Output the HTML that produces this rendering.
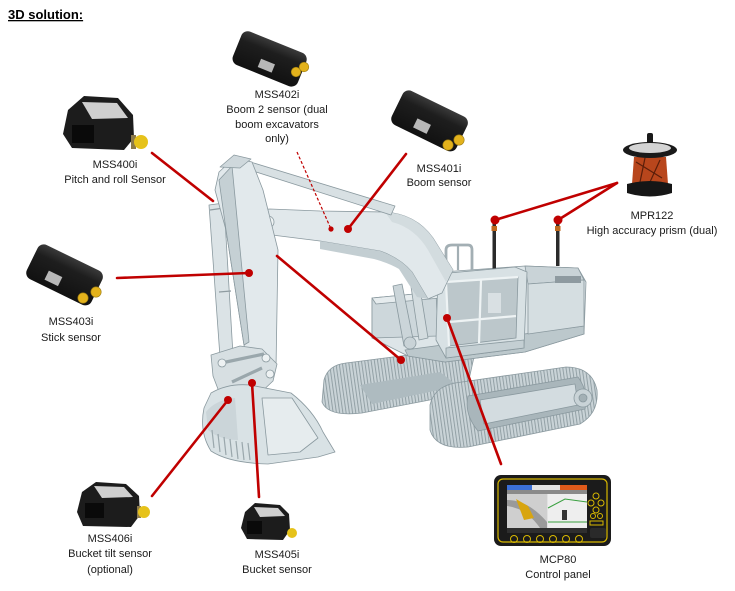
<!DOCTYPE html>
<html><head><meta charset="utf-8"><style>
html,body{margin:0;padding:0;background:#fff;}
svg{display:block;}
text{font-family:"Liberation Sans",sans-serif;font-size:11px;fill:#1a1a1a;}
</style></head><body>
<svg width="735" height="591" viewBox="0 0 735 591" xmlns="http://www.w3.org/2000/svg">
<defs>
<pattern id="tread" width="3.2" height="10" patternUnits="userSpaceOnUse" patternTransform="rotate(-8)">
<rect width="3.2" height="10" fill="#c9d3d7"/><line x1="0.5" y1="0" x2="0.5" y2="10" stroke="#92a0a5" stroke-width="1"/></pattern>
<linearGradient id="box" x1="0" y1="0" x2="0" y2="1">
<stop offset="0" stop-color="#3a3a3a"/><stop offset="0.3" stop-color="#1e1e1e"/><stop offset="1" stop-color="#111"/></linearGradient>
</defs>
<rect width="735" height="591" fill="#fff"/>
<text x="8" y="19" style="font-size:13px;font-weight:bold;text-decoration:underline;fill:#000">3D solution:</text>

<!-- ===== Excavator ===== -->
<g stroke="#8a999f" stroke-width="0.8" stroke-linejoin="round">
<!-- rear track -->
<path d="M324,380 Q328,365 346,363 L440,351 L474,357 L466,393 L362,413 Q328,417 322,402 Z" fill="url(#tread)"/>
<path d="M360,385 L440,372 L458,386 L372,404 Z" fill="#aebbc0" stroke="none"/>
<!-- upper body -->
<path d="M372,300 L440,294 L442,272 L525,266 L578,268 L586,282 L584,334 L525,352 L445,362 L408,356 L372,338 Z" fill="#dde5e8"/>
<path d="M372,298 L436,292 L438,336 L372,338 Z" fill="#cdd7db"/>
<path d="M372,298 L436,292 L440,298 L376,304 Z" fill="#e6ecee"/>
<path d="M405,350 L584,326 L584,334 L525,352 L445,362 L408,356 Z" fill="#bcc8cc"/>
<path d="M525,266 L578,268 L584,280 L528,284 Z" fill="#c9d3d7"/>
<path d="M528,284 L584,280 L584,326 L528,334 Z" fill="#d5dee1"/>
<rect x="555" y="276" width="26" height="7" fill="#8e9aa0" stroke="none"/>
<!-- handrails -->
<path d="M446,270 L446,250 Q446,245 452,245 L468,245 Q472,245 472,250 L472,270" fill="none" stroke="#a3afb4" stroke-width="2.8"/>
<path d="M458,246 L458,270" fill="none" stroke="#a3afb4" stroke-width="2.2"/>
<!-- antennas -->
<rect x="492.5" y="222" width="3.5" height="48" fill="#2b2b2b" stroke="none"/>
<rect x="491.5" y="226" width="5.5" height="5" fill="#c0691f" stroke="none"/>
<rect x="556" y="222" width="3.5" height="44" fill="#2b2b2b" stroke="none"/>
<rect x="555" y="226" width="5.5" height="5" fill="#c0691f" stroke="none"/>
<!-- cab -->
<path d="M438,274 L515,267 L527,272 L524,348 L446,358 L436,340 Z" fill="#d8e1e4"/>
<path d="M446,282 L518,277 L516,338 L449,346 Z" fill="#bcc7cb"/>
<path d="M446,282 L518,277 M481,280 L479,343 M449,322 L516,316 M446,282 L449,346" fill="none" stroke="#eef3f4" stroke-width="2.2"/>
<rect x="488" y="293" width="13" height="20" fill="#d9e0e3" stroke="none"/>
<path d="M446,348 L524,340 L524,348 L446,358 Z" fill="#c4cfd3"/>
<!-- front track -->
<path d="M430,405 Q434,387 455,383 L566,367 Q592,367 597,390 Q599,413 580,424 L468,447 Q436,450 430,430 Z" fill="url(#tread)"/>
<path d="M468,396 L578,377 Q589,392 585,409 L478,431 Q464,414 468,396 Z" fill="#a9b6bb"/>
<path d="M480,400 L575,384 L578,405 L484,424 Z" fill="#d3dce0"/>
<circle cx="583" cy="398" r="9" fill="#c9d3d7"/>
<circle cx="583" cy="398" r="4" fill="#a3b0b5"/>
<!-- boom cylinders -->
<path d="M404,240 L412,238 L428,338 L419,340 Z" fill="#d3dcdf"/>
<path d="M393,286 L402,284 L414,344 L404,346 Z" fill="#cbd5d9"/>
<circle cx="410" cy="343" r="6" fill="#c9d3d7"/>
<!-- boom -->
<path d="M262,216 Q262,209 270,209 L320,211 L385,212 Q416,214 433,238 L453,270 L442,293 L428,299 L412,272 Q400,258 380,251 L320,241 L272,235 Q260,230 262,216 Z" fill="#e1e8eb"/>
<path d="M320,241 L380,251 Q400,258 412,272 L428,299 L417,297 L399,269 Q389,263 374,259 L320,249 Z" fill="#c3ced2" stroke="none"/>
<path d="M385,212 Q416,214 433,238 L453,270 L446,282 L428,250 Q415,228 392,222 Z" fill="#d3dcdf" stroke="none"/>
<circle cx="268" cy="222" r="6" fill="#eef2f3"/>
<circle cx="268" cy="222" r="2.5" fill="#bcc7cb"/>
<!-- top cylinder -->
<path d="M228,163 L234,157 L395,206 L391,215 Z" fill="#d8e0e3"/>
<!-- stick-side cylinder -->
<path d="M209,205 L224,203 L233,355 L220,357 Z" fill="#dbe3e6"/>
<path d="M210,210 L224,208 M219,292 L231,291" fill="none" stroke="#8f9ca1" stroke-width="1.2"/>
<!-- stick -->
<path d="M215,190 L219,172 L234,158 L252,162 L263,190 L278,250 L276,368 L262,373 L250,373 L244,345 L226,230 Z" fill="#e2e9ec"/>
<path d="M219,180 L232,166 L249,342 L244,345 L226,230 Z" fill="#c5d0d4"/>
<path d="M220,167 L234,155 L251,159 L240,168 Z" fill="#cfd8dc"/>
<!-- linkage -->
<path d="M211,355 L240,346 L262,349 L277,364 L273,381 L256,397 L240,403 L221,397 L213,376 Z" fill="#d7dfe2"/>
<path d="M226,362 L264,354 M232,382 L262,368" fill="none" stroke="#9aa7ac" stroke-width="3.2"/>
<circle cx="222" cy="363" r="4" fill="#eef2f3"/>
<circle cx="266" cy="358" r="4" fill="#eef2f3"/>
<circle cx="270" cy="374" r="4" fill="#eef2f3"/>
<circle cx="244" cy="397" r="4" fill="#eef2f3"/>
<!-- bucket -->
<path d="M211,393 Q228,383 250,385 L291,393 Q313,410 323,432 L335,452 L318,457 L268,464 Q229,463 211,451 Q199,432 204,408 Z" fill="#d9e2e5"/>
<path d="M262,398 L292,398 L318,438 L300,452 L268,455 Z" fill="#e6ecee"/>
<path d="M206,412 Q215,400 235,398 L238,440 Q220,440 208,430 Z" fill="#cbd5d9" stroke="none"/>
<path d="M212,430 L214,448 M218,434 L220,452 M224,437 L226,455 M230,439 L232,457 M236,441 L238,459 M242,442 L244,460 M248,443 L250,460" fill="none" stroke="#9aa7ac" stroke-width="1.2"/>
</g>

<!-- ===== Red connectors ===== -->
<g stroke="#c00000" stroke-width="2.6" stroke-linecap="round" fill="none">
<line x1="152" y1="153" x2="213" y2="201"/>
<line x1="277" y1="256" x2="401" y2="360"/>
<line x1="406" y1="154" x2="348" y2="229"/>
<line x1="117" y1="278" x2="249" y2="273"/>
<line x1="447" y1="318" x2="501" y2="464"/>
<line x1="228" y1="400" x2="152" y2="496"/>
<line x1="252" y1="383" x2="259" y2="497"/>
<line x1="617" y1="183" x2="495" y2="220"/>
<line x1="617" y1="183" x2="558" y2="220"/>
</g>
<line x1="297" y1="152" x2="331" y2="229" stroke="#c00000" stroke-width="1.2" stroke-dasharray="3,2"/>
<g fill="#c00000">
<circle cx="331" cy="229" r="2.6"/>
<circle cx="348" cy="229" r="4"/>
<circle cx="249" cy="273" r="4"/>
<circle cx="401" cy="360" r="4"/>
<circle cx="447" cy="318" r="4"/>
<circle cx="228" cy="400" r="4"/>
<circle cx="252" cy="383" r="4"/>
<circle cx="495" cy="220" r="4.5"/>
<circle cx="558" cy="220" r="4.5"/>
</g>

<!-- ===== Box sensors ===== -->
<!-- MSS402i -->
<g transform="translate(270,58) rotate(22)">
<rect x="-35" y="-17" width="70" height="36" rx="7" fill="url(#box)"/>
<rect x="-8" y="4" width="15" height="9" fill="#b8b8b8"/>
</g>
<circle cx="296" cy="72" r="4.8" fill="#e3b21c" stroke="#9a7a10" stroke-width="0.6"/>
<circle cx="304" cy="67" r="4.8" fill="#e3b21c" stroke="#9a7a10" stroke-width="0.6"/>
<!-- MSS401i -->
<g transform="translate(430,120) rotate(26)">
<rect x="-36" y="-18" width="72" height="38" rx="7" fill="url(#box)"/>
<rect x="-12" y="4" width="15" height="10" fill="#b8b8b8"/>
</g>
<circle cx="448" cy="145" r="5.2" fill="#e3b21c" stroke="#9a7a10" stroke-width="0.6"/>
<circle cx="459" cy="140" r="5.2" fill="#e3b21c" stroke="#9a7a10" stroke-width="0.6"/>
<!-- MSS403i -->
<g transform="translate(65,274) rotate(26)">
<rect x="-36" y="-18" width="72" height="38" rx="7" fill="url(#box)"/>
<rect x="-16" y="4" width="15" height="10" fill="#b8b8b8"/>
</g>
<circle cx="83" cy="298" r="5.2" fill="#e3b21c" stroke="#9a7a10" stroke-width="0.6"/>
<circle cx="96" cy="292" r="5.2" fill="#e3b21c" stroke="#9a7a10" stroke-width="0.6"/>

<!-- ===== Pitch/roll style sensors ===== -->
<!-- MSS400i -->
<path d="M68,110 L84,96 L118,98 L133,115 L134,138 L124,150 L72,148 L63,134 Z" fill="#1c1c1c"/>
<path d="M82,102 L117,103 L128,118 L92,119 Z" fill="#cfcfcf"/>
<rect x="72" y="125" width="22" height="18" fill="#0a0a0a"/>
<rect x="131" y="135" width="5" height="14" fill="#8c7a4a"/>
<circle cx="141" cy="142" r="7" fill="#e6c21a"/>
<!-- MSS406i -->
<path d="M82,492 L96,482 L126,484 L139,496 L140,515 L131,527 L83,526 L77,512 Z" fill="#1c1c1c"/>
<path d="M94,486 L124,487 L133,497 L102,498 Z" fill="#cfcfcf"/>
<rect x="85" y="503" width="19" height="15" fill="#0a0a0a"/>
<rect x="137" y="506" width="4" height="12" fill="#8c7a4a"/>
<circle cx="144" cy="512" r="6" fill="#e6c21a"/>
<!-- MSS405i -->
<path d="M245,512 L255,503 L280,505 L289,514 L290,530 L283,540 L247,539 L241,528 Z" fill="#1c1c1c"/>
<path d="M254,507 L278,508 L285,516 L260,517 Z" fill="#cfcfcf"/>
<rect x="247" y="521" width="15" height="13" fill="#0a0a0a"/>
<circle cx="292" cy="533" r="5" fill="#e6c21a"/>

<!-- ===== Prism MPR122 ===== -->
<rect x="647" y="133" width="6" height="12" rx="2" fill="#1a1a1a"/>
<path d="M634,157 L666,157 L668,184 L632,184 Z" fill="#b8461c"/>
<path d="M636,162 L662,178 M645,158 L640,182 M660,160 L650,182" stroke="#5a1e0a" stroke-width="1.2"/>
<ellipse cx="650" cy="150" rx="27" ry="8" fill="#1a1a1a"/>
<ellipse cx="650" cy="148" rx="21" ry="5" fill="#d4d4d4"/>
<path d="M627,184 Q650,178 672,184 L672,193 Q650,200 627,193 Z" fill="#161616"/>

<!-- ===== Tablet MCP80 ===== -->
<rect x="494" y="475" width="117" height="71" rx="7" fill="#1b1b1b"/>
<rect x="498" y="479" width="109" height="63" rx="5" fill="none" stroke="#d8b800" stroke-width="1.2"/>
<rect x="507" y="485" width="80" height="48" fill="#e2e2e2"/>
<rect x="507" y="485" width="25" height="5" fill="#3b6fd6"/>
<rect x="560" y="485" width="27" height="5" fill="#e05a1a"/>
<rect x="507" y="490" width="80" height="4" fill="#8a8a8a"/>
<rect x="507" y="494" width="40" height="34" fill="#cfcfcf"/>
<path d="M507,500 Q528,500 547,522 L547,528 L540,528 Q526,508 507,506 Z" fill="#9a9a9a"/>
<path d="M516,499 L528,506 L534,518 L524,520 Z" fill="#d8a510"/>
<rect x="548" y="494" width="39" height="34" fill="#eeeeee"/>
<path d="M548,508 L565,499 L587,502" fill="none" stroke="#3aa040" stroke-width="1"/>
<path d="M548,522 L587,522" fill="none" stroke="#3aa040" stroke-width="1"/>
<rect x="562" y="510" width="5" height="10" fill="#333"/>
<rect x="507" y="528" width="80" height="5" fill="#2e2e2e"/>
<g fill="none" stroke="#d8b800" stroke-width="1">
<circle cx="514" cy="539" r="3.5"/><circle cx="527" cy="539" r="3.5"/><circle cx="540" cy="539" r="3.5"/>
<circle cx="553" cy="539" r="3.5"/><circle cx="566" cy="539" r="3.5"/><circle cx="579" cy="539" r="3.5"/>
<circle cx="596" cy="496" r="3"/><circle cx="591" cy="503" r="3"/><circle cx="601" cy="503" r="3"/>
<circle cx="596" cy="510" r="3"/><circle cx="593" cy="516" r="2.5"/><circle cx="600" cy="516" r="2.5"/>
<rect x="590" y="521" width="13" height="4"/>
</g>
<rect x="590" y="528" width="16" height="10" rx="2" fill="#2a2a2a"/>

<!-- ===== Labels ===== -->
<g text-anchor="middle">
<text x="277" y="98">MSS402i</text>
<text x="277" y="113">Boom 2 sensor (dual</text>
<text x="277" y="128">boom excavators</text>
<text x="277" y="142">only)</text>
<text x="115" y="168">MSS400i</text>
<text x="115" y="183">Pitch and roll Sensor</text>
<text x="439" y="172">MSS401i</text>
<text x="439" y="186">Boom sensor</text>
<text x="652" y="219">MPR122</text>
<text x="652" y="234">High accuracy prism (dual)</text>
<text x="71" y="325">MSS403i</text>
<text x="71" y="341">Stick sensor</text>
<text x="110" y="542">MSS406i</text>
<text x="110" y="557">Bucket tilt sensor</text>
<text x="110" y="573">(optional)</text>
<text x="277" y="558">MSS405i</text>
<text x="277" y="573">Bucket sensor</text>
<text x="558" y="563">MCP80</text>
<text x="558" y="578">Control panel</text>
</g>
</svg>
</body></html>
